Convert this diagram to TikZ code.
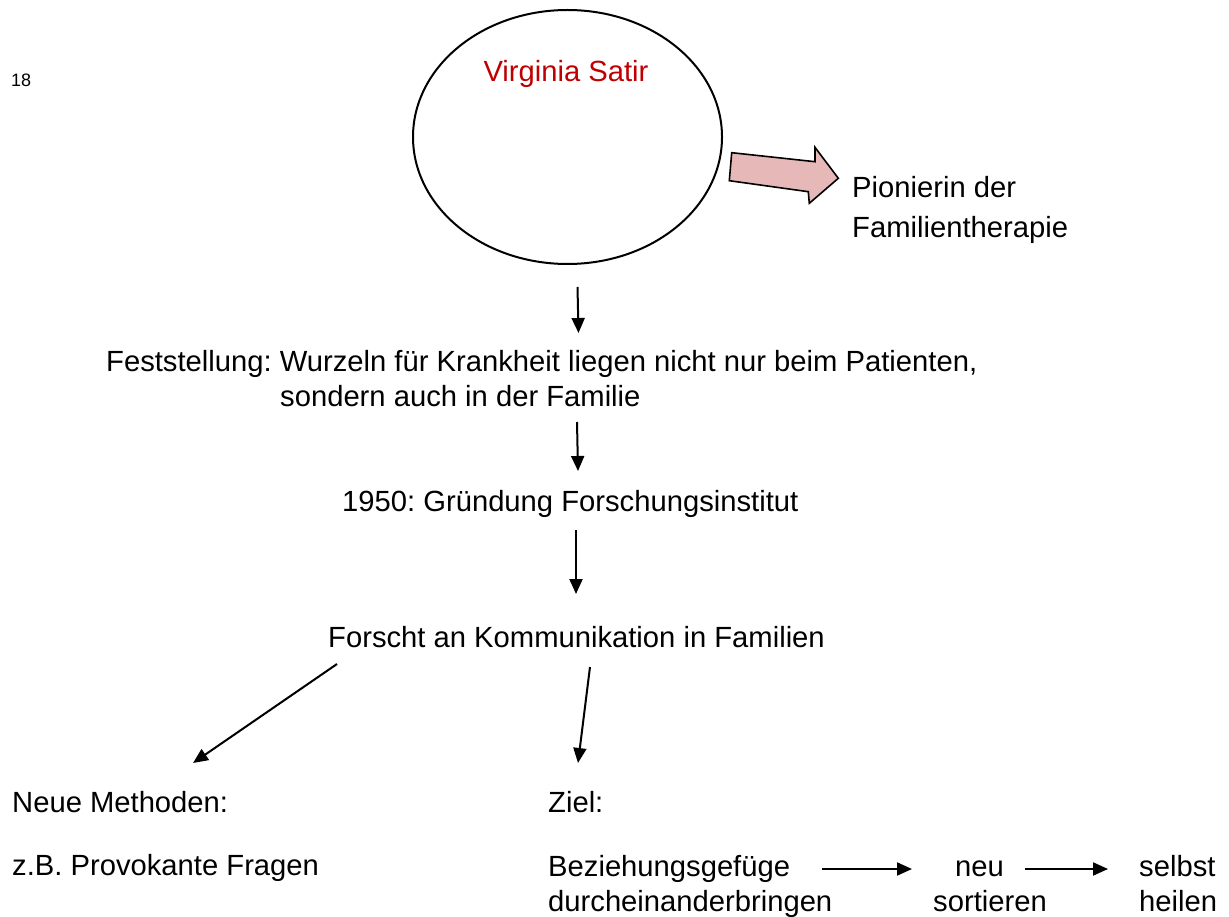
\documentclass[tikz,border=0pt]{standalone}
\usepackage{fontspec}
\setmainfont{Liberation Sans}
\usetikzlibrary{arrows.meta,shapes.geometric}
\definecolor{satred}{HTML}{C00000}
\definecolor{pinkfill}{HTML}{E6B9B8}
\frenchspacing
\begin{document}
\begin{tikzpicture}[x=1pt,y=-1pt,
  txt/.style={inner sep=0, anchor=base west, font=\fontsize{29.2}{35}\selectfont\frenchspacing},
  arr/.style={line width=2pt, -{Triangle[length=15pt,width=13pt]}},
  bigarrow/.style={draw=black, line width=1.6pt, fill=pinkfill, line join=miter}]
\useasboundingbox (0,0) rectangle (1229,917);
\fill[white] (0,0) rectangle (1229,917);

% page number
\node[inner sep=0, anchor=base west, font=\fontsize{18}{20}\selectfont] (pg) at (11,87) {18};

% ellipse
\node[draw, ellipse, line width=2pt, minimum width=309pt, minimum height=254pt, inner sep=0] (sat) at (567.5,137) {};
\node[txt, anchor=base, text=satred] (vs) at (566,82) {Virginia Satir};

% block arrow
\draw[bigarrow] (731.7,152.7) -- (815,161.7) -- (815,147.3) -- (838.3,178.3)
  -- (809.3,203.3) -- (808.3,191.7) -- (729.3,180.7) -- cycle;

\node[txt] (pio1) at (852,198) {Pionierin der};
\node[txt] (pio2) at (852,238) {Familientherapie};

% chain
\node[txt] (fest1) at (106,371) {Feststellung: Wurzeln für Krankheit liegen nicht nur beim Patienten,};
\node[txt] (fest2) at (280,406) {sondern auch in der Familie};
\node[txt] (grund) at (342,511) {1950: Gründung Forschungsinstitut};
\node[txt] (forscht) at (328,647) {Forscht an Kommunikation in Familien};

\node[txt] (neue) at (12,812) {Neue Methoden:};
\node[txt] (zb) at (12,875) {z.B. Provokante Fragen};
\node[txt] (ziel) at (548,812) {Ziel:};
\node[txt] (bez1) at (548,876) {Beziehungsgefüge};
\node[txt] (bez2) at (548,911) {durcheinanderbringen};
\node[txt] (neu1) at (955,876) {neu};
\node[txt] (neu2) at (933,911) {sortieren};
\node[txt] (sel1) at (1139,876) {selbst};
\node[txt] (sel2) at (1139,911) {heilen};

% arrow end points
\coordinate (a1s) at (577.5,287);  \coordinate (a1e) at (578.5,333);
\coordinate (a2s) at (577,422);    \coordinate (a2e) at (578,471);
\coordinate (a3s) at (576,530);    \coordinate (a3e) at (576,594);
\coordinate (a4s) at (337,664);    \coordinate (a4e) at (193,763);
\coordinate (a5s) at (590,667);    \coordinate (a5e) at (578,763);
\coordinate (a6s) at (822,869);    \coordinate (a6e) at (912,869);
\coordinate (a7s) at (1025,869);   \coordinate (a7e) at (1108,869);

\draw[arr] (a1s) -- (a1e);
\draw[arr] (a2s) -- (a2e);
\draw[arr] (a3s) -- (a3e);
\draw[arr] (a4s) -- (a4e);
\draw[arr] (a5s) -- (a5e);
\draw[arr] (a6s) -- (a6e);
\draw[arr] (a7s) -- (a7e);
\end{tikzpicture}
\end{document}
